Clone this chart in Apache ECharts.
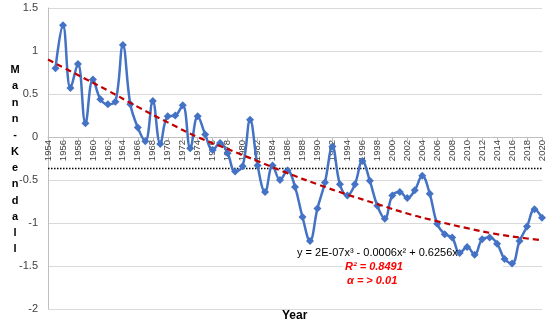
<!DOCTYPE html>
<html>
<head>
<meta charset="utf-8">
<script src="https://cdn.jsdelivr.net/npm/echarts@6/dist/echarts.min.js"></script>
<style>html,body{margin:0;padding:0;background:#fff}#c{width:550px;height:327px}</style>
</head>
<body>
<div id="c"></div>
<script>
const years = [];
for (let y = 1955; y <= 2020; y++) years.push(y);
const mkValues = [
  0.80, 1.30, 0.57, 0.85, 0.16, 0.67, 0.44, 0.38, 0.41, 1.07,
  0.38, 0.11, -0.05, 0.42, -0.08, 0.24, 0.25, 0.37, -0.13, 0.24,
  0.03, -0.15, -0.07, -0.19, -0.40, -0.34, 0.20, -0.33, -0.64, -0.33,
  -0.50, -0.39, -0.58, -0.93, -1.21, -0.83, -0.53, -0.11, -0.55, -0.68,
  -0.55, -0.28, -0.51, -0.80, -0.95, -0.68, -0.64, -0.71, -0.62, -0.45,
  -0.66, -1.01, -1.13, -1.17, -1.35, -1.28, -1.37, -1.19, -1.17, -1.24,
  -1.42, -1.47, -1.21, -1.04, -0.84, -0.94
];
const trendYears = [1954, 1958, 1962, 1966, 1970, 1974, 1978, 1982, 1986, 1990, 1994, 1998, 2002, 2006, 2010, 2014, 2018, 2020];
const trendValues = [0.90, 0.72, 0.54, 0.35, 0.17, 0.00, -0.14, -0.28, -0.42, -0.55, -0.67, -0.78, -0.89, -0.98, -1.06, -1.13, -1.18, -1.20];
const thresholdValue = -0.365;
const yTicks = [-2, -1.5, -1, -0.5, 0, 0.5, 1, 1.5];
const yTitle = 'Mann-Kendall';
const xTitle = 'Year';
const equationText = 'y = 2E-07x³ - 0.0006x² + 0.6256x';
const r2Text = 'R² = 0.8491';
const alphaText = 'α = > 0.01';

const chart = echarts.init(document.getElementById('c'), null, {renderer: 'canvas'});
const option = {
  animation: false,
  backgroundColor: '#fff',
  grid: {left: 48, right: 8, top: 8, bottom: 18, containLabel: false},
  xAxis: {
    type: 'value', min: 1954, max: 2020, interval: 2,
    position: 'bottom', offset: -172,
    axisLine: {onZero: false, lineStyle: {color: '#bfbfbf', width: 1}},
    axisTick: {show: true, length: 4, lineStyle: {color: '#bfbfbf'}},
    axisLabel: {rotate: 90, fontSize: 9.5, color: '#404040', fontFamily: 'Liberation Sans', margin: 3,
      formatter: v => String(v)},
    splitLine: {show: false}
  },
  yAxis: {
    type: 'value', min: -2, max: 1.5, interval: 0.5,
    axisLine: {show: true, lineStyle: {color: '#bfbfbf'}},
    axisTick: {show: false},
    axisLabel: {fontSize: 11, color: '#404040', fontFamily: 'Liberation Sans', margin: 10,
      formatter: v => (yTicks.indexOf(v) >= 0 ? String(v) : '')},
    splitLine: {show: true, lineStyle: {color: '#d9d9d9', width: 1}}
  },
  graphic: [
    {type: 'text', x: 15, y: 62, z: 100, style: {text: yTitle.split('').join('\n'), font: 'bold 11px "Liberation Sans"', fill: '#000', lineHeight: 16.3, textAlign: 'center', textVerticalAlign: 'top'}},
    {type: 'text', left: 282, top: 310, z: 100, style: {text: xTitle, font: 'bold 12px "Liberation Sans"', fill: '#000'}},
    {type: 'rect', shape: {x: 343, y: 259, width: 160, height: 30}, z: 1, style: {fill: '#fff'}},
    {type: 'text', left: 297, top: 247, z: 101, style: {text: equationText, font: '11px "Liberation Sans"', fill: '#000'}},
    {type: 'text', left: 345, top: 261, z: 101, style: {text: r2Text, font: 'italic bold 11px "Liberation Sans"', fill: '#ff0000'}},
    {type: 'text', left: 347, top: 275, z: 101, style: {text: alphaText, font: 'italic bold 11px "Liberation Sans"', fill: '#ff0000'}}
  ],
  series: [
    {
      type: 'line', name: 'threshold',
      data: [[1954, thresholdValue], [2020, thresholdValue]],
      symbol: 'none', lineStyle: {color: '#000', width: 1.5, type: [1.5, 1.5]}, z: 1
    },
    {
      type: 'line', name: 'MK',
      data: years.map((y, i) => [y, mkValues[i]]),
      smooth: 0.4,
      symbol: 'diamond', symbolSize: 8,
      itemStyle: {color: '#4472C4'},
      lineStyle: {color: '#4472C4', width: 2.5}, z: 3
    },
    {
      type: 'line', name: 'trend',
      data: trendYears.map((y, i) => [y, trendValues[i]]),
      smooth: true, symbol: 'none',
      lineStyle: {color: '#c00000', width: 2.2, type: [6, 4]}, z: 4
    }
  ]
};
chart.setOption(option);
</script>
</body>
</html>
